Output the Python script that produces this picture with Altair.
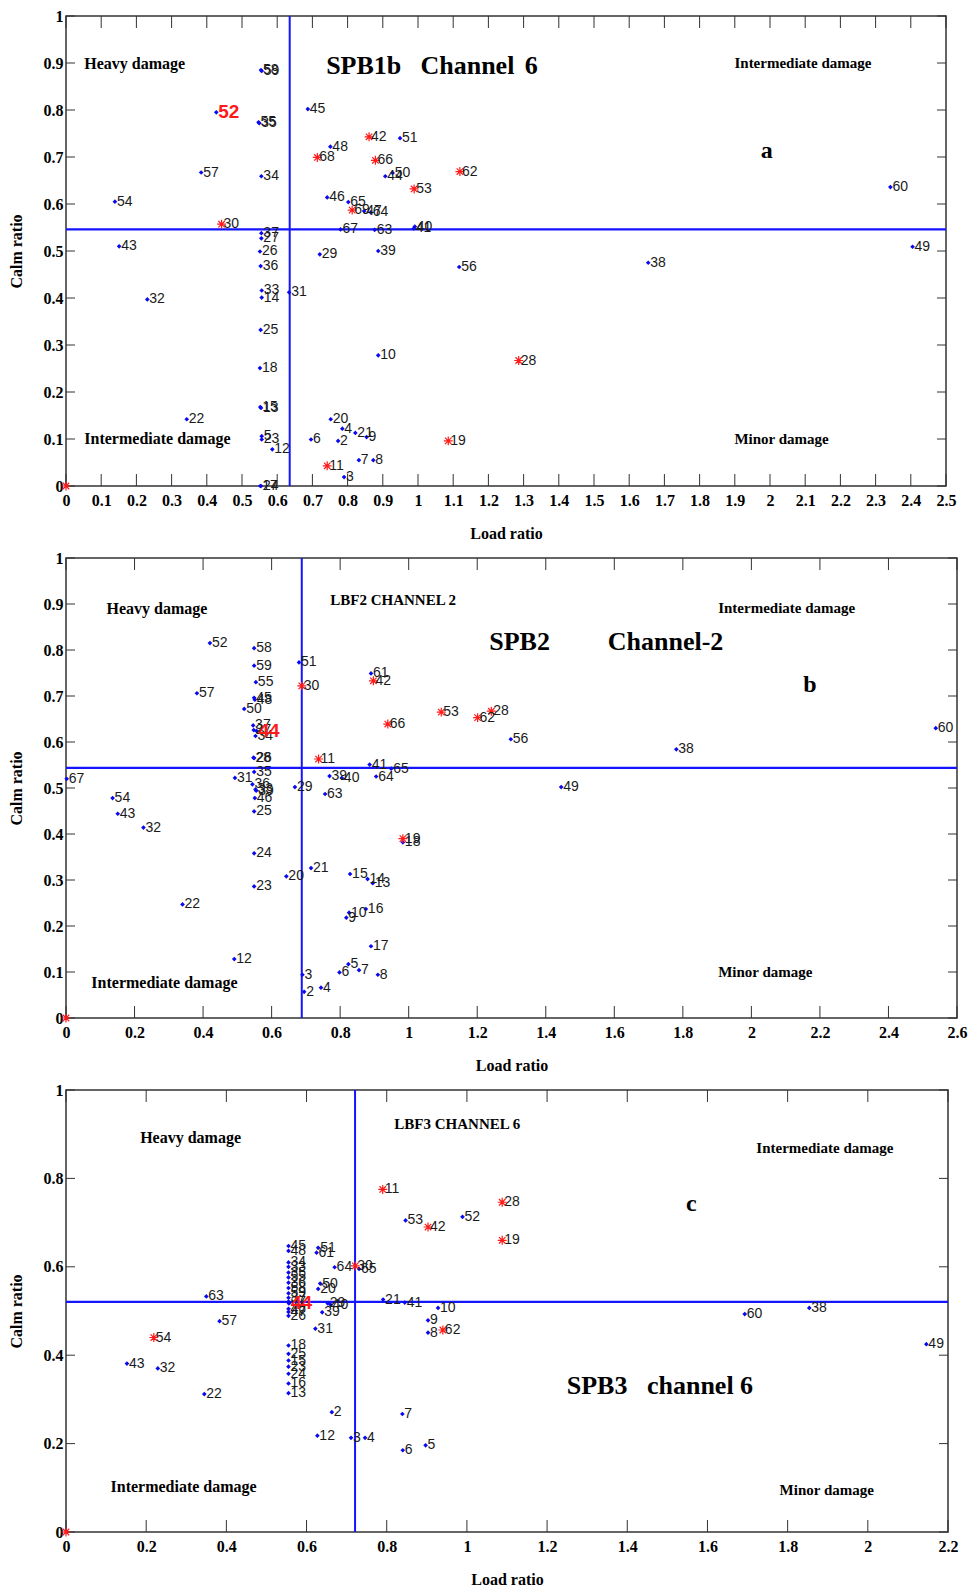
import altair as alt
import pandas as pd

BLUE = "#0a0af0"
RED = "#ff1a1a"
SERIF = "Liberation Serif"
NARROW = "'Liberation Sans Narrow', 'Arial Narrow', 'Liberation Sans', sans-serif"

# ---------------- panel a : SPB1b channel 6 ----------------
a_blue_id = [58, 59, 55, 35, 57, 34, 54, 37, 27, 26, 36, 43, 33, 14, 31, 32, 25, 18,
             15, 13, 22, 5, 23, 12, 6, 17, 24, 45, 51, 48, 44, 50, 46, 65, 47, 64,
             67, 63, 40, 41, 29, 39, 56, 10, 20, 4, 21, 9, 2, 7, 8, 3, 38, 60, 49]
a_blue_x = [0.554, 0.556, 0.547, 0.549, 0.384, 0.555, 0.139, 0.555, 0.555, 0.551, 0.553, 0.151,
            0.556, 0.556, 0.634, 0.231, 0.553, 0.551, 0.552, 0.554, 0.343, 0.556, 0.556, 0.586,
            0.696, 0.552, 0.554, 0.687, 0.949, 0.751, 0.907, 0.928, 0.742, 0.802, 0.847, 0.866,
            0.780, 0.877, 0.991, 0.988, 0.721, 0.887, 1.117, 0.887, 0.752, 0.785, 0.822, 0.854,
            0.773, 0.832, 0.873, 0.790, 1.654, 2.342, 2.405]
a_blue_y = [0.885, 0.883, 0.774, 0.772, 0.667, 0.659, 0.605, 0.538, 0.527, 0.499, 0.468, 0.510,
            0.416, 0.401, 0.412, 0.397, 0.332, 0.251, 0.168, 0.166, 0.142, 0.106, 0.099, 0.078,
            0.099, 0.000, 0.000, 0.802, 0.740, 0.722, 0.659, 0.666, 0.614, 0.604, 0.585, 0.582,
            0.546, 0.545, 0.552, 0.548, 0.493, 0.500, 0.466, 0.278, 0.142, 0.122, 0.113, 0.104,
            0.096, 0.055, 0.055, 0.019, 0.475, 0.636, 0.509]
a_red_id = [42, 68, 66, 62, 53, 69, 30, 19, 11, 28, None]
a_red_x = [0.861, 0.714, 0.879, 1.119, 0.989, 0.813, 0.442, 1.086, 0.742, 1.286, 0.0]
a_red_y = [0.743, 0.699, 0.693, 0.669, 0.632, 0.587, 0.557, 0.096, 0.043, 0.267, 0.0]
a_big = ([52], [0.427], [0.795])
a_notes = (["Heavy damage", "Intermediate damage", "Intermediate damage", "Minor damage",
            "SPB1b", "Channel", "6"],
           [0.052, 0.052, 1.899, 1.899, 0.739, 1.007, 1.303],
           [0.897, 0.101, 0.901, 0.101, 0.894, 0.894, 0.894],
           [16, 16, 15, 15, 26, 26, 26])
a_letter = ("a", 1.991, 0.713)
a_xticks = [0, 0.1, 0.2, 0.3, 0.4, 0.5, 0.6, 0.7, 0.8, 0.9, 1, 1.1, 1.2, 1.3, 1.4, 1.5,
            1.6, 1.7, 1.8, 1.9, 2, 2.1, 2.2, 2.3, 2.4, 2.5]
a_yticks = [0, 0.1, 0.2, 0.3, 0.4, 0.5, 0.6, 0.7, 0.8, 0.9, 1]
a_vline, a_hline = 0.6355, 0.546

# ---------------- panel b : SPB2 channel 2 ----------------
b_blue_id = [52, 58, 59, 51, 55, 57, 45, 48, 50, 37, 27, 34, 28, 26, 35, 67, 31, 36, 33, 39,
             46, 25, 29, 54, 43, 32, 24, 21, 20, 23, 22, 12, 3, 2, 4, 61, 56, 41, 65, 39, 40,
             64, 63, 49, 18, 15, 14, 13, 10, 9, 16, 17, 5, 6, 7, 8, 60, 38]
b_blue_x = [0.420, 0.549, 0.549, 0.680, 0.554, 0.382, 0.549, 0.551, 0.520, 0.546, 0.548, 0.553,
            0.547, 0.549, 0.549, 0.002, 0.493, 0.544, 0.553, 0.555, 0.551, 0.549, 0.668, 0.136,
            0.151, 0.226, 0.549, 0.715, 0.643, 0.549, 0.340, 0.491, 0.690, 0.695, 0.744, 0.890,
            1.298, 0.886, 0.949, 0.769, 0.805, 0.905, 0.756, 1.445, 0.983, 0.829, 0.880, 0.895,
            0.826, 0.818, 0.875, 0.890, 0.824, 0.798, 0.855, 0.910, 2.538, 1.781]
b_blue_y = [0.815, 0.804, 0.766, 0.773, 0.730, 0.706, 0.696, 0.692, 0.672, 0.636, 0.626, 0.613,
            0.566, 0.565, 0.535, 0.520, 0.522, 0.508, 0.497, 0.494, 0.478, 0.449, 0.502, 0.478,
            0.444, 0.414, 0.358, 0.326, 0.308, 0.286, 0.247, 0.128, 0.094, 0.057, 0.066, 0.749,
            0.606, 0.551, 0.542, 0.526, 0.522, 0.525, 0.487, 0.502, 0.382, 0.313, 0.302, 0.293,
            0.229, 0.218, 0.237, 0.156, 0.117, 0.099, 0.104, 0.094, 0.630, 0.584]
b_red_id = [30, 42, 53, 28, 62, 66, 11, 19, None]
b_red_x = [0.688, 0.897, 1.095, 1.241, 1.201, 0.939, 0.737, 0.983, 0.0]
b_red_y = [0.722, 0.733, 0.665, 0.667, 0.653, 0.639, 0.563, 0.390, 0.0]
b_big = ([44], [0.556], [0.624])
b_notes = (["Heavy damage", "Intermediate damage", "Intermediate damage", "Minor damage",
            "LBF2 CHANNEL 2", "SPB2", "Channel-2"],
           [0.118, 0.074, 1.903, 1.903, 0.771, 1.235, 1.581],
           [0.890, 0.077, 0.892, 0.099, 0.908, 0.817, 0.817],
           [16, 16, 15, 15, 15, 26, 26])
b_letter = ("b", 2.171, 0.723)
b_xticks = [0, 0.2, 0.4, 0.6, 0.8, 1, 1.2, 1.4, 1.6, 1.8, 2, 2.2, 2.4, 2.6]
b_yticks = [0, 0.1, 0.2, 0.3, 0.4, 0.5, 0.6, 0.7, 0.8, 0.9, 1]
b_vline, b_hline = 0.688, 0.5436

# ---------------- panel c : SPB3 channel 6 ----------------
c_blue_id = [63, 57, 43, 32, 22, 45, 48, 34, 33, 35, 55, 36, 58, 59, 37, 27, 46, 47, 26,
             18, 25, 15, 23, 24, 16, 13, 51, 61, 64, 65, 50, 20, 29, 40, 39, 31, 2, 12,
             53, 52, 21, 41, 10, 9, 8, 7, 3, 4, 6, 5, 60, 38, 49]
c_blue_x = [0.350, 0.383, 0.152, 0.229, 0.345, 0.555, 0.555, 0.555, 0.555, 0.555, 0.555, 0.555,
            0.555, 0.555, 0.555, 0.555, 0.555, 0.555, 0.555, 0.555, 0.555, 0.555, 0.555, 0.555,
            0.555, 0.555, 0.629, 0.625, 0.670, 0.731, 0.634, 0.629, 0.653, 0.660, 0.639, 0.622,
            0.663, 0.627, 0.847, 0.989, 0.791, 0.845, 0.928, 0.903, 0.903, 0.839, 0.711, 0.746,
            0.840, 0.897, 1.693, 1.854, 2.146]
c_blue_y = [0.533, 0.477, 0.381, 0.370, 0.312, 0.647, 0.636, 0.610, 0.600, 0.587, 0.576, 0.564,
            0.552, 0.540, 0.530, 0.521, 0.505, 0.498, 0.489, 0.422, 0.403, 0.388, 0.374, 0.358,
            0.336, 0.314, 0.643, 0.632, 0.599, 0.595, 0.562, 0.550, 0.517, 0.514, 0.497, 0.460,
            0.271, 0.218, 0.705, 0.713, 0.526, 0.519, 0.507, 0.479, 0.451, 0.267, 0.213, 0.213,
            0.185, 0.196, 0.493, 0.507, 0.425]
c_red_id = [54, 11, 28, 42, 19, 30, 62, None]
c_red_x = [0.219, 0.790, 1.088, 0.903, 1.088, 0.7215, 0.940, 0.0]
c_red_y = [0.440, 0.775, 0.746, 0.690, 0.660, 0.602, 0.457, 0.0]
c_big = ([44], [0.556], [0.517])
c_notes = (["Heavy damage", "Intermediate damage", "Intermediate damage", "Minor damage",
            "LBF3 CHANNEL 6", "SPB3", "channel 6"],
           [0.185, 0.111, 1.722, 1.780, 0.819, 1.249, 1.449],
           [0.892, 0.101, 0.869, 0.096, 0.922, 0.330, 0.330],
           [16, 16, 15, 15, 15, 26, 26])
c_letter = ("c", 1.560, 0.741)
c_xticks = [0, 0.2, 0.4, 0.6, 0.8, 1, 1.2, 1.4, 1.6, 1.8, 2, 2.2]
c_yticks = [0, 0.2, 0.4, 0.6, 0.8, 1]
c_vline, c_hline = 0.721, 0.5206

# five-armed asterisk marker (like MATLAB '*')
ASTERISK = "M-1,0L1,0M0,-1L0,1M-0.72,-0.72L0.72,0.72M-0.72,0.72L0.72,-0.72"


def panel(blue, red, big, notes, letter, xticks, yticks, vline, hline, W, H):
    xmax = xticks[-1]
    xs = alt.Scale(domain=[0, xmax], nice=False, zero=False)
    ys = alt.Scale(domain=[0, 1], nice=False, zero=False)
    xaxis = alt.Axis(values=xticks, format=".1~f", title="Load ratio", grid=False,
                     ticks=False, tickSize=0, domain=False, labelFlush=False,
                     labelOverlap=False, labelPadding=6, titlePadding=17)
    yaxis = alt.Axis(values=yticks, format=".1~f", title="Calm ratio", grid=False,
                     ticks=False, tickSize=0, domain=False, labelFlush=False,
                     labelOverlap=False, labelPadding=3, titlePadding=19)

    def X(f):
        return alt.X(f, type="quantitative", scale=xs, axis=xaxis)

    def Y(f):
        return alt.Y(f, type="quantitative", scale=ys, axis=yaxis)

    df_blue = pd.DataFrame({"x": blue[1], "y": blue[2],
                            "label": [str(i) for i in blue[0]]})
    df_red = pd.DataFrame({"x": red[1], "y": red[2],
                           "label": ["" if i is None else str(i) for i in red[0]]})
    df_big = pd.DataFrame({"x": big[1], "y": big[2], "label": [str(i) for i in big[0]]})
    df_notes = pd.DataFrame({"text": notes[0], "x": notes[1], "y": notes[2], "fs": notes[3]})
    df_letter = pd.DataFrame({"text": [letter[0]], "x": [letter[1]], "y": [letter[2]]})
    df_xt = pd.DataFrame({"x": xticks})
    df_yt = pd.DataFrame({"y": yticks})

    layers = []
    # inward tick marks on all four sides
    layers.append(alt.Chart(df_xt).mark_rule(color="#333", strokeWidth=1).encode(
        x=X("x"), y=alt.value(H), y2=alt.value(H - 12)))
    layers.append(alt.Chart(df_xt).mark_rule(color="#333", strokeWidth=1).encode(
        x=X("x"), y=alt.value(0), y2=alt.value(12)))
    layers.append(alt.Chart(df_yt).mark_rule(color="#333", strokeWidth=1).encode(
        y=Y("y"), x=alt.value(0), x2=alt.value(9)))
    layers.append(alt.Chart(df_yt).mark_rule(color="#333", strokeWidth=1).encode(
        y=Y("y"), x=alt.value(W - 9), x2=alt.value(W)))
    # threshold lines
    layers.append(alt.Chart(pd.DataFrame({"x": [vline]})).mark_rule(
        color="#1414ff", strokeWidth=2).encode(x=X("x")))
    layers.append(alt.Chart(pd.DataFrame({"y": [hline]})).mark_rule(
        color="#1414ff", strokeWidth=2.2).encode(y=Y("y")))
    # specimen points
    layers.append(alt.Chart(df_blue).mark_point(
        shape="diamond", filled=True, size=22, color=BLUE, opacity=1).encode(x=X("x"), y=Y("y")))
    layers.append(alt.Chart(df_big).mark_point(
        shape="diamond", filled=True, size=22, color=BLUE, opacity=1).encode(x=X("x"), y=Y("y")))
    layers.append(alt.Chart(df_red).mark_point(
        shape=ASTERISK, filled=False, size=80, stroke=RED, strokeWidth=1.2, opacity=1).encode(
        x=X("x"), y=Y("y")))
    # point labels
    layers.append(alt.Chart(pd.concat([df_blue, df_red])).mark_text(
        align="left", baseline="middle", dx=2, font=NARROW, fontSize=14, color="#1a1a1a").encode(
        x=X("x"), y=Y("y"), text="label:N"))
    layers.append(alt.Chart(df_big).mark_text(
        align="left", baseline="middle", dx=2, font="Liberation Sans", fontSize=19,
        fontWeight="bold", color=RED).encode(x=X("x"), y=Y("y"), text="label:N"))
    # region notes and titles
    layers.append(alt.Chart(df_notes).mark_text(
        align="left", baseline="middle", font=SERIF, fontWeight="bold", color="black").encode(
        x=X("x"), y=Y("y"), text="text:N", size=alt.Size("fs:Q", scale=None, legend=None)))
    layers.append(alt.Chart(df_letter).mark_text(
        align="center", baseline="middle", font=SERIF, fontWeight="bold", fontSize=24,
        color="black").encode(x=X("x"), y=Y("y"), text="text:N"))
    return alt.layer(*layers).properties(width=W, height=H)


pa = panel((a_blue_id, a_blue_x, a_blue_y), (a_red_id, a_red_x, a_red_y), a_big, a_notes,
           a_letter, a_xticks, a_yticks, a_vline, a_hline, 880, 470)
pb = panel((b_blue_id, b_blue_x, b_blue_y), (b_red_id, b_red_x, b_red_y), b_big, b_notes,
           b_letter, b_xticks, b_yticks, b_vline, b_hline, 891, 460)
pc = panel((c_blue_id, c_blue_x, c_blue_y), (c_red_id, c_red_x, c_red_y), c_big, c_notes,
           c_letter, c_xticks, c_yticks, c_vline, c_hline, 882, 442)

chart = alt.vconcat(pa, pb, pc, spacing=72, bounds="flush").resolve_scale(
    x="independent", y="independent"
).configure_view(
    stroke="#333", strokeWidth=1.5
).configure_axis(
    labelFont=SERIF, labelFontWeight="bold", labelFontSize=16, labelColor="black",
    titleFont=SERIF, titleFontWeight="bold", titleFontSize=16, titleColor="black"
).properties(
    padding={"left": 7, "top": 7, "right": 4, "bottom": 2}, background="white"
)

chart.save("out.html", embed_options={"renderer": "svg", "actions": False})
